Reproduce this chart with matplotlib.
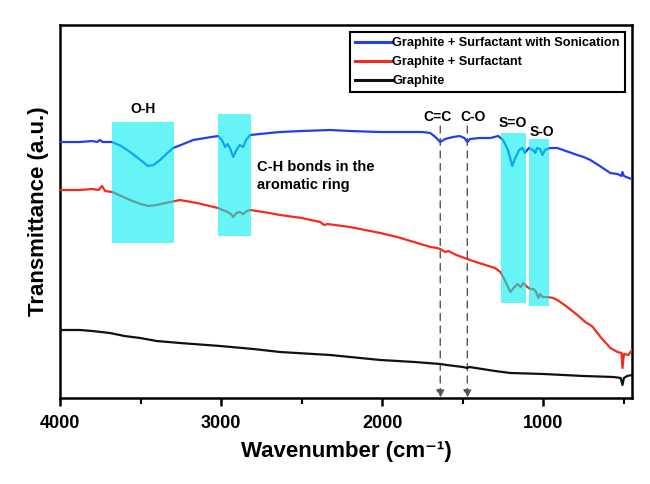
import matplotlib
matplotlib.use("Agg")
import matplotlib.pyplot as plt
from matplotlib.patches import Rectangle
import numpy as np

plt.rcParams['font.family'] = ['Liberation Sans', 'DejaVu Sans']
plt.rcParams['font.weight'] = 'bold'

# Transmittance in arbitrary units
wn_sonic = [4000, 3876, 3800, 3770, 3752, 3735, 3720, 3677, 3620, 3565, 3500, 3453, 3420, 3379, 3340, 3298,
            3250, 3174, 3100, 3019, 2995, 2975, 2960, 2945, 2925, 2905, 2885, 2863, 2845, 2820, 2700,
            2634, 2500, 2323, 2200, 2012, 1900, 1750, 1702, 1670, 1640, 1610, 1560, 1520, 1490, 1472,
            1455, 1400, 1330, 1280, 1250, 1220, 1193, 1175, 1150, 1130, 1115, 1090, 1065, 1050, 1040,
            1020, 1006, 990, 960, 913, 860, 789, 750, 708, 650, 584, 540, 515, 509, 500, 470, 450]
t_sonic = [256, 256, 257, 256, 258, 256, 256, 256, 252, 246, 238, 232, 233, 238, 244, 250,
           253, 258, 260, 262, 258, 251, 254, 250, 241, 248, 253, 251, 258, 263, 265,
           266, 267, 268, 267, 266, 266, 266, 265, 261, 256, 259, 261, 262, 260, 256,
           259, 260, 260, 262, 258, 248, 232, 240, 248, 250, 245, 250, 248, 245, 250,
           249, 243, 248, 250, 250, 247, 243, 241, 238, 232, 225, 224, 222, 226, 222, 220, 219]

wn_surf = [4000, 3876, 3800, 3760, 3739, 3720, 3677, 3620, 3565, 3500, 3453, 3400, 3317, 3255, 3150,
           3019, 2990, 2960, 2940, 2925, 2905, 2885, 2863, 2840, 2820, 2700, 2634, 2500, 2385, 2360,
           2340, 2200, 2012, 1907, 1783, 1700, 1660, 1640, 1610, 1590, 1540, 1472, 1400, 1300, 1267,
           1240, 1205, 1185, 1160, 1140, 1124, 1100, 1080, 1060, 1045, 1031, 1020, 1005, 975, 940,
           913, 860, 789, 740, 700, 689, 640, 584, 540, 515, 509, 500, 472, 450]
t_surf = [208, 208, 209, 208, 212, 207, 206, 202, 198, 194, 192, 193, 196, 198, 195,
          190, 188, 186, 184, 181, 185, 186, 184, 187, 188, 185, 183, 180, 176, 173,
          174, 171, 165, 161, 155, 151, 150, 149, 146, 147, 143, 139, 135, 130, 126,
          118, 106, 110, 114, 111, 115, 111, 109, 109, 106, 100, 104, 101, 101, 100,
          98, 92, 83, 76, 72, 70, 60, 50, 46, 45, 30, 44, 43, 48]

wn_graph = [4000, 3876, 3800, 3690, 3600, 3503, 3400, 3255, 3006, 2800, 2634, 2323, 2199, 2012, 1800,
            1640, 1600, 1500, 1472, 1460, 1300, 1205, 1000, 752, 565, 520, 509, 500, 480, 450]
t_graph = [68, 68, 67, 65, 62, 60, 57, 55, 52, 49, 46, 43, 41, 38, 36,
           34, 33, 31, 30, 31, 27, 25, 24, 22, 21, 20, 13, 20, 22, 23]

labels = ['Graphite + Surfactant with Sonication', 'Graphite + Surfactant', 'Graphite']
colors = ['#1f3ff0', '#f52a1a', '#111111']

# Highlight bands: (wn_high, wn_low, t_bottom, t_top)
band_lo = [3292, 2814, 1106, 963]
band_hi = [3677, 3019, 1261, 1087]
band_bot = [155, 162, 95, 92]
band_top = [276, 284, 265, 259]

peak_wn = [1640, 1472]
peak_names = ['C=C', 'C-O']

fig = plt.figure(figsize=(6.5, 4.84), dpi=100)
ax = fig.add_axes([0.0923, 0.1777, 0.8800, 0.7706])

ax.plot(wn_sonic, t_sonic, color=colors[0], lw=1.6, label=labels[0], zorder=3)
ax.plot(wn_surf, t_surf, color=colors[1], lw=1.6, label=labels[1], zorder=3)
ax.plot(wn_graph, t_graph, color=colors[2], lw=1.6, label=labels[2], zorder=3)

for lo, hi, b, t in zip(band_lo, band_hi, band_bot, band_top):
    ax.add_patch(Rectangle((lo, b), hi - lo, t - b, facecolor=(0.0, 0.93, 0.95),
                           alpha=0.6, edgecolor='none', zorder=4))

for w in peak_wn:
    ax.annotate('', xy=(w, 0), xytext=(w, 272),
                arrowprops=dict(arrowstyle='-|>', color='#555555', lw=1.0,
                                linestyle=(0, (5, 4)), mutation_scale=12,
                                shrinkA=0, shrinkB=0),
                zorder=2)

ax.text(3485, 289, 'O-H', ha='center', va='center', fontsize=10, fontweight='bold')
ax.text(2780, 231, 'C-H bonds in the', ha='left', va='center', fontsize=10.5, fontweight='bold')
ax.text(2780, 213, 'aromatic ring', ha='left', va='center', fontsize=10.5, fontweight='bold')
ax.text(1660, 281, 'C=C', ha='center', va='center', fontsize=10, fontweight='bold')
ax.text(1435, 281, 'C-O', ha='center', va='center', fontsize=10, fontweight='bold')
ax.text(1190, 275, 'S=O', ha='center', va='center', fontsize=10, fontweight='bold')
ax.text(1010, 266, 'S-O', ha='center', va='center', fontsize=10, fontweight='bold')

ax.set_xlim(4000, 450)
ax.set_ylim(0, 373)
ax.set_xticks([4000, 3000, 2000, 1000])
ax.set_xticks([3500, 2500, 1500, 500], minor=True)
ax.set_yticks([])
ax.tick_params(axis='x', which='major', direction='out', length=6, width=1.8, labelsize=13, pad=6)
ax.tick_params(axis='x', which='minor', direction='out', length=4, width=1.5)
for lbl in ax.get_xticklabels():
    lbl.set_fontweight('bold')
for s in ax.spines.values():
    s.set_linewidth(1.8)

ax.set_xlabel('Wavenumber (cm\u207b\u00b9)', fontsize=16, fontweight='bold', labelpad=7)
ax.set_ylabel('Transmittance (a.u.)', fontsize=16, fontweight='bold', labelpad=8)

leg = ax.legend(loc='upper right', handlelength=2.9, handletextpad=0.05,
                labelspacing=0.55, borderpad=0.4, borderaxespad=0.55, fancybox=False,
                framealpha=1, edgecolor='black', prop={'weight': 'bold', 'size': 9.2})
leg.get_frame().set_linewidth(1.5)
for line in leg.get_lines():
    line.set_linewidth(2.2)

fig.savefig('out.png', dpi=100)
